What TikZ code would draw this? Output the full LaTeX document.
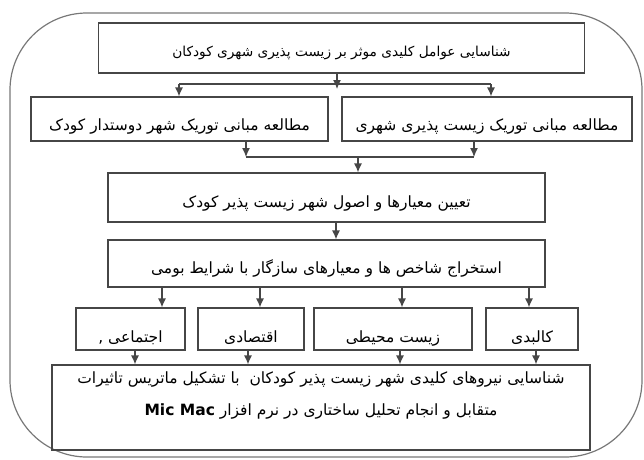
\documentclass[tikz,border=0pt]{standalone}
\usepackage{fontspec}
\usepackage{tikz}
\usetikzlibrary{arrows.meta, positioning}
\TeXXeTstate=1
\newfontfamily\arabicfont[Script=Arabic]{DejaVu Sans}
\definecolor{boxgray}{RGB}{70, 70, 70}
\definecolor{framegray}{RGB}{120, 120, 120}

\begin{document}
\begin{tikzpicture}[
    x=1pt, y=-1pt,
    box/.style={draw=boxgray, line width=1.2pt, rectangle, inner sep=0pt,
        align=center, text depth=0pt, text height=20pt,
        font=\arabicfont\fontsize{15.5}{32}\selectfont},
    arr/.style={draw=boxgray, line width=1.2pt, -{Latex[length=9pt, width=8pt]}},
    link/.style={draw=boxgray, line width=1.2pt}
]
    \useasboundingbox (0,0) rectangle (644,459);
    \draw[framegray, line width=1.2pt, rounded corners=77pt] (10,13) rectangle (642,457);

    % boxes
    \node[box, minimum width=486pt, minimum height=50pt, text height=17.6pt,
        font=\arabicfont\fontsize{13.7}{16}\selectfont] (goal) at (341.5,48)
        {\beginR شناسایی عوامل کلیدی موثر بر زیست پذیری شهری کودکان\endR};
    \node[box, minimum width=297pt, minimum height=44pt, text height=23pt] (childcity) at (179.5,119)
        {\beginR مطالعه مبانی توریک شهر دوستدار کودک\endR};
    \node[box, minimum width=290pt, minimum height=44pt, text height=23pt] (livecity) at (487,119)
        {\beginR مطالعه مبانی توریک زیست پذیری شهری\endR};
    \node[box, minimum width=437pt, minimum height=49pt] (criteria) at (326.5,197.5)
        {\beginR تعیین معیارها و اصول شهر زیست پذیر کودک\endR};
    \node[box, minimum width=437pt, minimum height=47pt] (indices) at (326.5,263.5)
        {\beginR استخراج شاخص ها و معیارهای سازگار با شرایط بومی\endR};
    \node[box, minimum width=109pt, minimum height=42pt, text height=27pt] (social) at (130.5,329)
        {\beginR اجتماعی ,\endR};
    \node[box, minimum width=106pt, minimum height=42pt, text height=27pt] (econ) at (251,329)
        {\beginR اقتصادی\endR};
    \node[box, minimum width=158pt, minimum height=42pt, text height=27pt] (env) at (393,329)
        {\beginR زیست محیطی\endR};
    \node[box, minimum width=92pt, minimum height=42pt, text height=27pt] (phys) at (532,329)
        {\beginR کالبدی\endR};
    \node[box, minimum width=538pt, minimum height=85pt, text height=16pt, text depth=0pt] (result) at (321,407.5)
        {\beginR شناسایی نیروهای کلیدی شهر زیست پذیر کودکان \ با تشکیل ماتریس تاثیرات\endR\\
         \beginR متقابل و انجام تحلیل ساختاری در نرم افزار \beginL\textbf{Mic Mac}\endL\endR};

    % first split
    \coordinate (s1l) at (179,84);
    \coordinate (s1r) at (491,84);
    \draw[link] (s1l) -- (s1r);
    \draw[arr] (goal.south -| 337,0) -- (337,89);
    \draw[arr] (s1l) -- (childcity.north -| s1l);
    \draw[arr] (s1r) -- (livecity.north -| s1r);

    % join
    \coordinate (j1l) at (246,157);
    \coordinate (j1r) at (474,157);
    \draw[arr] (childcity.south -| j1l) -- (j1l);
    \draw[arr] (livecity.south -| j1r) -- (j1r);
    \draw[link] (j1l) -- (j1r);
    \draw[arr] (358,157) -- (criteria.north -| 358,0);

    \draw[arr] (criteria.south -| 336,0) -- (indices.north -| 336,0);

    % dimensions
    \foreach \x/\n in {162/social, 260/econ, 402/env, 529/phys}
        \draw[arr] (indices.south -| \x,0) -- (\n.north -| \x,0);
    \foreach \x/\n in {135/social, 248/econ, 400/env, 536/phys}
        \draw[arr] (\n.south -| \x,0) -- (result.north -| \x,0);
\end{tikzpicture}
\end{document}
